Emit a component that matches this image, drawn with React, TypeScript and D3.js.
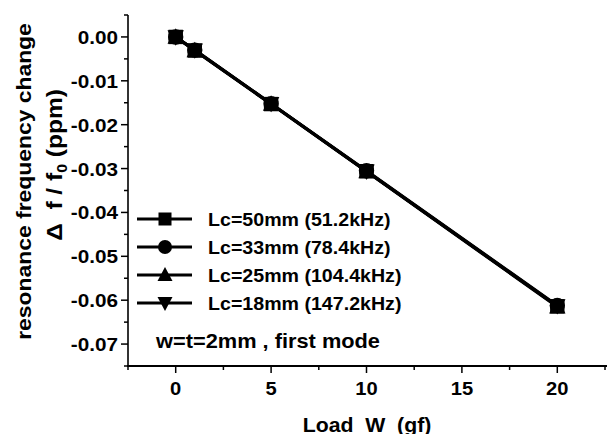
import React from "react";
import * as d3 from "d3";

const loads = [0, 1, 5, 10, 20];
const seriesNames = [
  "Lc=50mm (51.2kHz)",
  "Lc=33mm (78.4kHz)",
  "Lc=25mm (104.4kHz)",
  "Lc=18mm (147.2kHz)",
];
const s50 = [0, -0.0031, -0.0153, -0.0306, -0.0614];
const s33 = [0, -0.003, -0.0152, -0.0305, -0.0612];
const s25 = [0, -0.0031, -0.0153, -0.0307, -0.0615];
const s18 = [0, -0.003, -0.0152, -0.0306, -0.0613];
const seriesValues = [s50, s33, s25, s18];
const markerTypes = ["square", "circle", "up", "down"];
const xTicks = [0, 5, 10, 15, 20];
const yTicks = [0, -0.01, -0.02, -0.03, -0.04, -0.05, -0.06, -0.07];
const note = "w=t=2mm , first mode";
const xTitle = "Load  W  (gf)";
const yTitle1 = "resonance frequency change";

const W = 608, H = 434;
const left = 128, right = 605, top = 15, bottom = 366;
const FONT = "Arial, 'Liberation Sans', sans-serif";
const SX = 1.09;

function marker(type: string, x: number, y: number, key: string, s = 6.5) {
  if (type === "square")
    return <rect key={key} x={x - s} y={y - s} width={2 * s} height={2 * s} fill="#000" />;
  if (type === "circle") return <circle key={key} cx={x} cy={y} r={s + 0.5} fill="#000" />;
  if (type === "up")
    return <path key={key} d={`M${x},${y - s - 1.5}L${x + s + 1},${y + s - 0.5}L${x - s - 1},${y + s - 0.5}Z`} fill="#000" />;
  return <path key={key} d={`M${x},${y + s + 1.5}L${x + s + 1},${y - s + 0.5}L${x - s - 1},${y - s + 0.5}Z`} fill="#000" />;
}

function T(props: { x: number; y: number; size: number; anchor?: string; rot?: number; sx?: number; children: React.ReactNode }) {
  const { x, y, size, anchor, rot, children } = props;
  const sx = props.sx || SX;
  return (
    <text
      transform={`translate(${x},${y})${rot ? ` rotate(${rot})` : ""} scale(${sx},1)`}
      textAnchor={anchor || "start"}
      fontSize={size}
      fontWeight="bold"
      style={{ whiteSpace: "pre" }}
    >
      {children}
    </text>
  );
}

export default function App() {
  const x = d3.scaleLinear().domain([-2.5, 22.5]).range([left, right]);
  const y = d3.scaleLinear().domain([-0.075, 0.005]).range([bottom, top]);
  const line = d3
    .line<number>()
    .x((_, i) => x(loads[i]))
    .y((d) => y(d));
  const xMinor = d3.range(-2.5, 22.6, 2.5).filter((v) => !xTicks.includes(v));
  const yMinor = d3.range(-0.075, 0.0051, 0.005).filter((v) => !yTicks.some((t) => Math.abs(t - v) < 1e-6));
  const legendY = [219, 247, 275, 303];

  return (
    <svg width={W} height={H} style={{ position: "absolute", left: 0, top: 0, background: "#fff" }} fontFamily={FONT}>
      {/* axes */}
      <line x1={left} x2={left} y1={top} y2={bottom + 1} stroke="#333" strokeWidth={2} />
      <line x1={left - 1} x2={right + 2} y1={bottom} y2={bottom} stroke="#000" strokeWidth={2} />
      {xTicks.map((t) => (
        <g key={"xt" + t}>
          <line x1={x(t)} x2={x(t)} y1={bottom} y2={bottom + 7} stroke="#000" strokeWidth={1.5} />
          <T x={x(t)} y={395} size={18.5} anchor="middle">{t}</T>
        </g>
      ))}
      {xMinor.map((t) => (
        <line key={"xm" + t} x1={x(t)} x2={x(t)} y1={bottom} y2={bottom + 4} stroke="#000" strokeWidth={1.5} />
      ))}
      {yTicks.map((t) => (
        <g key={"yt" + t}>
          <line x1={left - 7} x2={left} y1={y(t)} y2={y(t)} stroke="#000" strokeWidth={1.5} />
          <T x={118} y={y(t) + 7} size={18.5} anchor="end" sx={1.12}>{t.toFixed(2)}</T>
        </g>
      ))}
      {yMinor.map((t, i) => (
        <line key={"ym" + i} x1={left - 4} x2={left} y1={y(t)} y2={y(t)} stroke="#000" strokeWidth={1.5} />
      ))}
      {/* axis titles */}
      <T x={367} y={432} size={19.5} anchor="middle">{xTitle}</T>
      <T x={30.5} y={181.5} size={21} anchor="middle" rot={-90}>{yTitle1}</T>
      <T x={62} y={165} size={21.5} anchor="middle" rot={-90} sx={1.14}>
        {"Δ  f / f"}
        <tspan fontSize={14} dy={5}>0</tspan>
        <tspan dy={-5}>{" (ppm)"}</tspan>
      </T>
      {/* data */}
      {seriesValues.map((vals, si) => (
        <path key={"l" + si} d={line(vals) || ""} fill="none" stroke="#000" strokeWidth={3} />
      ))}
      {seriesValues.map((vals, si) =>
        vals.map((v, i) => marker(markerTypes[si], x(loads[i]), y(v), `m${si}-${i}`, 7.2))
      )}
      {/* legend */}
      {seriesNames.map((n, i) => (
        <g key={"lg" + i}>
          <line x1={137} x2={192} y1={legendY[i]} y2={legendY[i]} stroke="#000" strokeWidth={3} />
          {marker(markerTypes[i], 165, legendY[i], "lm" + i)}
          <T x={208} y={legendY[i] + 7} size={18}>{n}</T>
        </g>
      ))}
      <T x={156} y={348} size={20}>{note}</T>
    </svg>
  );
}
